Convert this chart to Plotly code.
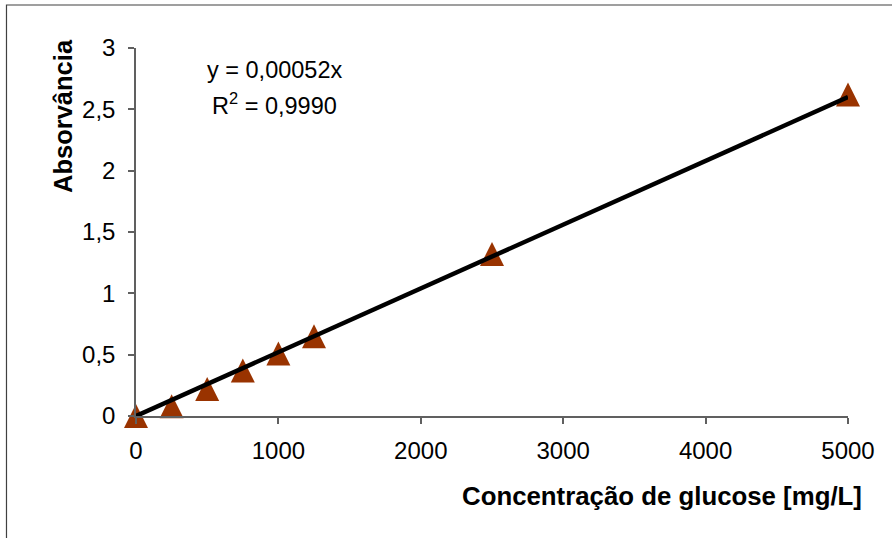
import plotly.graph_objects as go

# Calibration data: glucose concentration vs absorbance
concentration = [0, 250, 500, 750, 1000, 1250, 2500, 5000]
absorbance = [0.0, 0.08, 0.22, 0.37, 0.51, 0.65, 1.32, 2.62]

# Linear fit through the origin
slope = 0.00052
r_squared = "0,9990"
fit_x = [0, 5000]
fit_y = [slope * x for x in fit_x]

x_tick_vals = [0, 1000, 2000, 3000, 4000, 5000]
x_tick_text = ["0", "1000", "2000", "3000", "4000", "5000"]
y_tick_vals = [0, 0.5, 1, 1.5, 2, 2.5, 3]
y_tick_text = ["0", "0,5", "1", "1,5", "2", "2,5", "3"]

FONT = "Liberation Sans, Arial, sans-serif"
AXIS_COLOR = "#606060"

fig = go.Figure()

fig.add_trace(go.Scatter(
    x=concentration, y=absorbance, mode="markers",
    marker=dict(symbol="arrow-down", angle=180, standoff=12, size=24,
                color="#993300", line=dict(width=0)),
    cliponaxis=False, showlegend=False, hoverinfo="x+y",
))

fig.add_trace(go.Scatter(
    x=fit_x, y=fit_y, mode="lines",
    line=dict(color="black", width=4.5),
    cliponaxis=False, showlegend=False, hoverinfo="skip",
))

axis_common = dict(
    showgrid=False, zeroline=False, showline=True,
    linecolor=AXIS_COLOR, linewidth=1.5,
    ticks="outside", ticklen=6, tickwidth=1.5, tickcolor=AXIS_COLOR,
    tickfont=dict(family=FONT, size=24, color="black"),
    tickmode="array",
)

fig.update_xaxes(range=[0, 5000], tickvals=x_tick_vals, ticktext=x_tick_text,
                 ticklabelstandoff=6, **axis_common)
fig.update_yaxes(range=[0, 3], tickvals=y_tick_vals, ticktext=y_tick_text,
                 ticklabelstandoff=8, **axis_common)

fig.update_layout(
    width=892, height=538,
    margin=dict(l=136, r=44, t=48, b=122),
    paper_bgcolor="white", plot_bgcolor="white",
    font=dict(family=FONT, color="black"),
    shapes=[dict(type="rect", xref="paper", yref="paper",
                 x0=-0.1819, x1=1.5, y0=-1.0, y1=1.1168,
                 line=dict(color="#404040", width=1.2), layer="below")],
    annotations=[
        dict(text="y = 0,00052x", xref="paper", yref="paper",
             x=0.1945, y=0.9402, xanchor="center", yanchor="middle",
             showarrow=False, font=dict(size=23.5)),
        dict(text="R<sup>2</sup> = " + r_squared, xref="paper", yref="paper",
             x=0.1945, y=0.8478, xanchor="center", yanchor="middle",
             showarrow=False, font=dict(size=23.5)),
        dict(text="<b>Concentração de glucose [mg/L]</b>", xref="paper", yref="paper",
             x=1.0225, y=-0.2174, xanchor="right", yanchor="middle",
             showarrow=False, font=dict(size=25.8)),
        dict(text="<b>Absorvância</b>", xref="paper", yref="paper",
             x=-0.1018, y=0.8139, xanchor="center", yanchor="middle",
             textangle=-90, showarrow=False, font=dict(size=25.5)),
    ],
)

fig.write_html("out.html")
